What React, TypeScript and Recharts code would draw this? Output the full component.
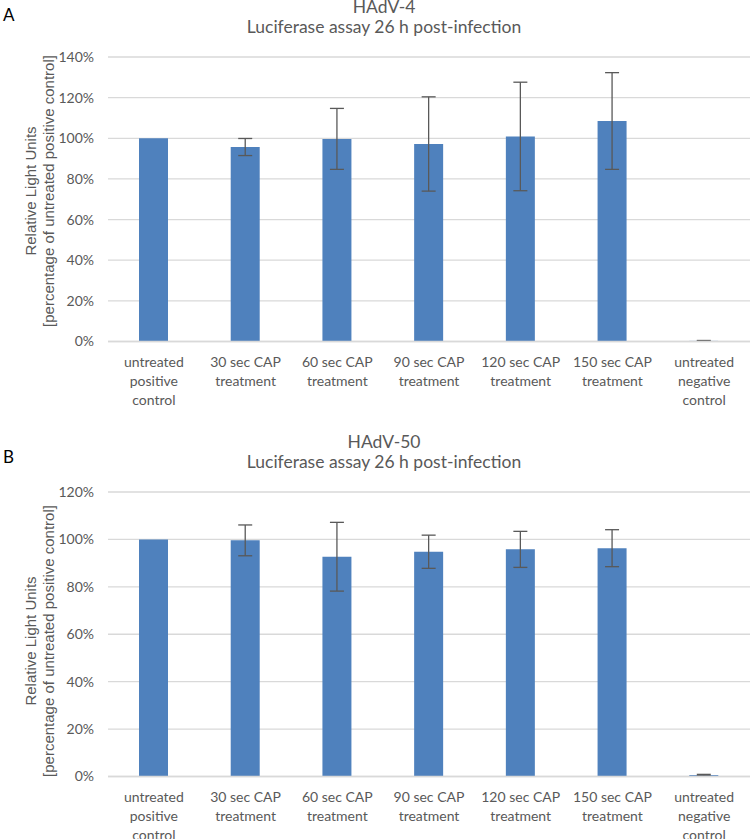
import React from 'react'
import { BarChart, Bar, XAxis, YAxis, CartesianGrid, ErrorBar } from 'recharts'

const categories = [
  'untreated\npositive\ncontrol',
  '30 sec CAP\ntreatment',
  '60 sec CAP\ntreatment',
  '90 sec CAP\ntreatment',
  '120 sec CAP\ntreatment',
  '150 sec CAP\ntreatment',
  'untreated\nnegative\ncontrol',
]

// HAdV-4, % of untreated positive control
const hadv4Values = [100, 95.7, 99.7, 97.2, 100.9, 108.5, 0.3]
const hadv4Errors = [0, 4.2, 15, 23.2, 26.7, 23.8, 0.2]
const hadv4Ticks = [0, 20, 40, 60, 80, 100, 120, 140]

// HAdV-50
const hadv50Values = [100, 99.6, 92.7, 94.8, 95.8, 96.3, 0.6]
const hadv50Errors = [0, 6.5, 14.5, 7, 7.6, 7.8, 0.3]
const hadv50Ticks = [0, 20, 40, 60, 80, 100, 120]

const GREY = '#595959'
const BLUE = '#4f81bd'
const TICK_FONT = 'Lato, "Open Sans", sans-serif'
const LABEL_FONT = '"Liberation Sans", Arial, sans-serif'

function CategoryTick(props: any) {
  const { x, y, payload } = props
  const lines = String(payload.value).split('\n')
  return (
    <g>
      {lines.map((line, i) => (
        <text
          key={i}
          x={x}
          y={y + 17 + i * 19}
          textAnchor="middle"
          fill={GREY}
          fontSize={14}
          fontFamily={TICK_FONT}
        >
          {line}
        </text>
      ))}
    </g>
  )
}

interface PanelProps {
  top: number
  height: number
  plotTop: number
  letter: string
  letterTop: number
  titleTop: number
  title: string
  values: number[]
  errors: number[]
  ticks: number[]
  labelY: number
}

function Panel({ top, height, plotTop, letter, letterTop, titleTop, title, values, errors, ticks, labelY }: PanelProps) {
  const data = categories.map((c, i) => ({ name: c, value: values[i], err: errors[i] }))
  const max = ticks[ticks.length - 1]

  return (
    <div style={{ position: 'absolute', left: 0, top, width: 752, height }}>
      <div style={{ position: 'absolute', left: 3, top: letterTop, fontSize: 17, lineHeight: '20px', fontFamily: TICK_FONT, color: '#000' }}>
        {letter}
      </div>
      <div
        style={{
          position: 'absolute', left: 184, width: 400, top: titleTop, textAlign: 'center',
          fontSize: 17.5, lineHeight: '20px', fontFamily: TICK_FONT, color: GREY,
        }}
      >
        <div>{title}</div>
        <div>Luciferase assay 26 h post-infection</div>
      </div>
      <BarChart
        width={752}
        height={height}
        data={data}
        margin={{ top: plotTop, right: 2, left: 0, bottom: 0 }}
        barSize={29}
        style={{ position: 'absolute', left: 0, top: 0 }}
      >
        <CartesianGrid vertical={false} stroke="#d9d9d9" strokeWidth={1.3} />
        <XAxis
          dataKey="name"
          interval={0}
          height={height - plotTop - 284.5}
          axisLine={{ stroke: '#d9d9d9', strokeWidth: 1.3 }}
          tickLine={false}
          tick={<CategoryTick />}
        />
        <YAxis
          width={108}
          domain={[0, max]}
          ticks={ticks}
          interval={0}
          axisLine={false}
          tickLine={false}
          tickMargin={8}
          tickFormatter={(v: number) => `${v}%`}
          tick={{ fontSize: 14, fill: GREY, fontFamily: TICK_FONT }}
          label={{
            content: () => (
              <g fontFamily={LABEL_FONT} fontSize={15} fill={GREY}>
                <text x={30} y={labelY} textAnchor="middle" dominantBaseline="central" transform={`rotate(-90 30 ${labelY})`}>
                  Relative Light Units
                </text>
                <text x={48} y={labelY} textAnchor="middle" dominantBaseline="central" transform={`rotate(-90 48 ${labelY})`}>
                  [percentage of untreated positive control]
                </text>
              </g>
            ),
          }}
        />
        <Bar dataKey="value" fill={BLUE} isAnimationActive={false}>
          <ErrorBar dataKey="err" width={7} stroke={GREY} strokeWidth={1.3} />
        </Bar>
      </BarChart>
    </div>
  )
}

export default function App() {
  return (
    <div style={{ position: 'absolute', left: 0, top: 0, width: 752, height: 839, background: '#fff' }}>
      <Panel
        top={0}
        height={420}
        plotTop={57}
        letter="A"
        letterTop={5}
        titleTop={-3}
        title="HAdV-4"
        values={hadv4Values}
        errors={hadv4Errors}
        ticks={hadv4Ticks}
        labelY={191}
      />
      <Panel
        top={420}
        height={419}
        plotTop={72}
        letter="B"
        letterTop={27}
        titleTop={12}
        title="HAdV-50"
        values={hadv50Values}
        errors={hadv50Errors}
        ticks={hadv50Ticks}
        labelY={221}
      />
    </div>
  )
}
